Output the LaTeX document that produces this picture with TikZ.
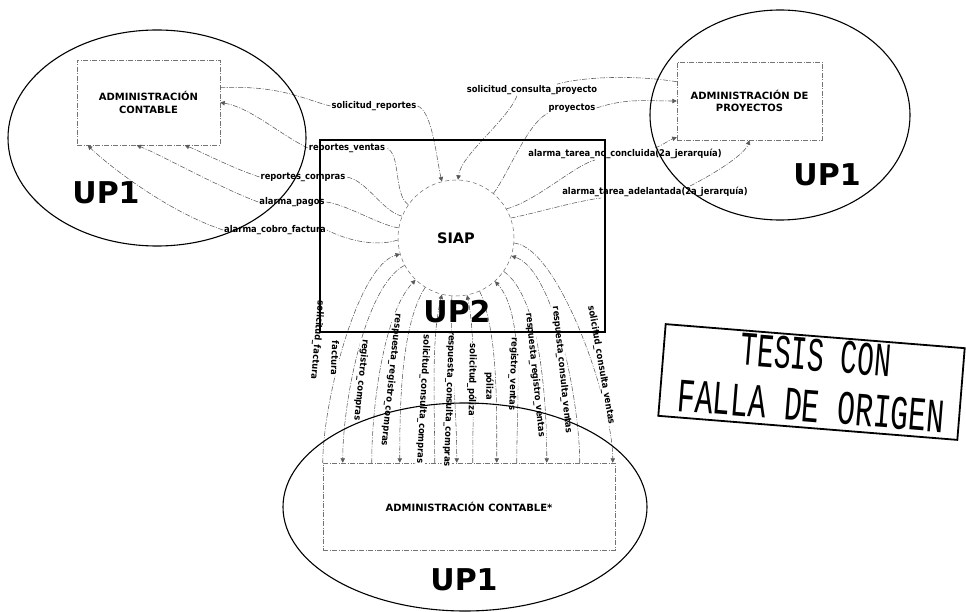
\documentclass[tikz,border=0pt]{standalone}
\usepackage{fontspec}
\setmainfont{DejaVu Sans}
\newfontfamily\lblfont{DejaVu Sans Condensed}
\newfontfamily\stampfont{Liberation Mono}
\usetikzlibrary{arrows.meta,calc,shapes.geometric}
\begin{document}
\begin{tikzpicture}[x=1pt,y=-1pt,
  flow/.style={draw=black!65, line width=0.55pt, dash pattern=on 5pt off 1.5pt on 1pt off 1.5pt},
  arr/.style={-{Triangle[length=4.5pt,width=4.5pt]}},
  lbl/.style={font=\lblfont\bfseries\fontsize{9.3}{10}\selectfont, inner sep=1pt},
  vlbl/.style={lbl, fill=white, inner sep=0.6pt},
  ebox/.style={draw=black!55, line width=0.5pt, dash pattern=on 5pt off 1.5pt on 1pt off 1.5pt,
    align=center, inner sep=0pt, font=\bfseries\fontsize{10}{12.5}\selectfont},
  group/.style={ellipse, draw=black, line width=1.1pt, inner sep=0pt},
  big/.style={font=\bfseries\fontsize{30}{32}\selectfont, inner sep=0pt},
  stamptext/.style={font=\stampfont\fontsize{48}{48}\selectfont, rotate=-4.6, inner sep=0pt},
]
\useasboundingbox (0,0) rectangle (966,612);

% entities
\node[ebox, minimum width=143pt, minimum height=85pt] (lbox) at (148.5,102.5) {ADMINISTRACIÓN\\CONTABLE};
\node[ebox, minimum width=145pt, minimum height=78pt] (rbox) at (749.5,101) {ADMINISTRACIÓN DE\\PROYECTOS};
\node[ebox, minimum width=292pt, minimum height=87pt] (bbox) at (469,506.5) {ADMINISTRACIÓN CONTABLE*};
\node[circle, draw=black!60, line width=0.5pt, dash pattern=on 4pt off 3pt, minimum size=116pt,
  font=\bfseries\fontsize{14.5}{16}\selectfont] (siap) at (456,238) {SIAP};

% left flows
\node[lbl] (L1) at (374,106) {solicitud\_reportes};
\node[lbl] (L2) at (347,148) {reportes\_ventas};
\node[lbl] (L3) at (303,177) {reportes\_compras};
\node[lbl] (L4) at (292,202) {alarma\_pagos};
\node[lbl] (L5) at (275,230) {alarma\_cobro\_factura};
\draw[flow] ($(lbox.north east)+(0,28)$) .. controls +(60,-3) and +(-25,-6) .. (L1.west);
\draw[flow,arr] (L1.east) .. controls +(15,5) and +(-5,-20) .. (siap.104);
\draw[flow] (siap.145) .. controls +(-15,-10) and +(15,5) .. (L2.east);
\draw[flow,arr] (L2.west) .. controls +(-30,-15) and +(30,5) .. (lbox.east);
\draw[flow] (siap.158) .. controls +(-20,-5) and +(20,3) .. (L3.east);
\draw[flow,arr] (L3.west) .. controls +(-30,-10) and +(20,8) .. ($(lbox.south west)+(108,0)$);
\draw[flow] (siap.170) .. controls +(-20,-3) and +(20,2) .. (L4.east);
\draw[flow,arr] (L4.west) .. controls +(-40,-15) and +(25,10) .. ($(lbox.south west)+(60,0)$);
\draw[flow] (siap.182) .. controls +(-25,8) and +(15,8) .. (L5.east);
\draw[flow,arr] (L5.west) .. controls +(-60,-20) and +(15,15) .. ($(lbox.south west)+(11,0)$);

% right flows
\node[lbl] (R1) at (532,90) {solicitud\_consulta\_proyecto};
\node[lbl] (R2) at (572,108) {proyectos};
\node[lbl] (R3) at (625,154) {alarma\_tarea\_no\_concluida(2a\_jerarquía)};
\node[lbl] (R4) at (655,192) {alarma\_tarea\_adelantada(2a\_jerarquía)};
\draw[flow] ($(rbox.north west)+(0,20)$) .. controls +(-50,-8) and +(20,-6) .. ($(R1.north)+(25,0)$);
\draw[flow,arr] ($(R1.south)+(-15,0)$) .. controls +(-10,25) and +(3,-25) .. (siap.88);
\draw[flow] (siap.50) .. controls +(15,-20) and +(-20,10) .. (R2.south west);
\draw[flow,arr] (R2.east) .. controls +(30,-10) and +(-30,0) .. (rbox.west);
\draw[flow] (siap.30) .. controls +(30,-8) and +(-20,5) .. ($(R3.south)+(-30,0)$);
\draw[flow,arr] ($(R3.north)+(30,0)$) .. controls +(8,-3) and +(-8,3) .. ($(rbox.south west)+(0,-3)$);
\draw[flow] (siap.20) .. controls +(25,-5) and +(-25,3) .. ($(R4.south west)+(40,0)$);
\draw[flow,arr] ($(R4.north)+(35,0)$) .. controls +(20,-10) and +(-5,15) .. (rbox.south);

% bottom flows: box -> SIAP
\draw[flow,arr] (bbox.north west) .. controls +(0,-60) and +(-43,12) .. (siap.196);
\draw[flow,arr] ($(bbox.north west)+(49,0)$) .. controls +(0,-60) and +(-31,32) .. (siap.226);
\draw[flow,arr] ($(bbox.north west)+(112,0)$) .. controls +(0,-60) and +(-11,44) .. (siap.256);
\draw[flow,arr] ($(bbox.north west)+(150,0)$) .. controls +(0,-60) and +(9,44) .. (siap.281);
\draw[flow,arr] ($(bbox.north west)+(194,0)$) .. controls +(0,-60) and +(30,33) .. (siap.312);
\draw[flow,arr] ($(bbox.north west)+(257,0)$) .. controls +(0,-60) and +(43,14) .. (siap.342);
% bottom flows: SIAP -> box
\draw[flow,arr] (siap.208) .. controls +(-40,21) and +(0,-60) .. ($(bbox.north west)+(20,0)$);
\draw[flow,arr] (siap.238) .. controls +(-24,38) and +(0,-60) .. ($(bbox.north west)+(77,0)$);
\draw[flow,arr] (siap.266) .. controls +(-3,45) and +(0,-60) .. ($(bbox.north west)+(134,0)$);
\draw[flow,arr] (siap.294) .. controls +(18,41) and +(0,-60) .. ($(bbox.north west)+(174,0)$);
\draw[flow,arr] (siap.325) .. controls +(37,26) and +(0,-60) .. ($(bbox.north west)+(224,0)$);
\draw[flow,arr] (siap.355) .. controls +(45,4) and +(0,-60) .. ($(bbox.north west)+(290,0)$);

% bottom labels
\node[vlbl, rotate=-95] (B1) at (317,340) {solicitud\_factura};
\node[vlbl, rotate=-92] (B2) at (335,358) {factura};
\node[vlbl, rotate=-96] (B3) at (361,380) {registro\_compras};
\node[vlbl, rotate=-96] (B4) at (391,380) {respuesta\_registro\_compras};
\node[vlbl, rotate=-93] (B5) at (423,399) {solicitud\_consulta\_compras};
\node[vlbl, rotate=-92] (B6) at (449,399) {respuesta\_consulta\_compras};
\node[vlbl, rotate=-91] (B7) at (472,380) {solicitud\_póliza};
\node[vlbl, rotate=-90] (B8) at (489,386) {póliza};
\node[vlbl, rotate=-92] (B9) at (513,374) {registro\_ventas};
\node[vlbl, rotate=-84] (B10) at (535,375) {respuesta\_registro\_ventas};
\node[vlbl, rotate=-84] (B11) at (562,370) {respuesta\_consulta\_ventas};
\node[vlbl, rotate=-80] (B12) at (601,365) {solicitud\_consulta\_ventas};

% groups
\node[draw=black, line width=1.2pt, minimum width=285pt, minimum height=192pt, inner sep=0pt] (up2box) at (462.5,236) {};
\node[group, minimum width=298pt, minimum height=216pt] (g1) at (157,138) {};
\node[group, minimum width=260pt, minimum height=210pt] (g2) at (780,115) {};
\node[group, minimum width=364pt, minimum height=208pt] (g3) at (465,507) {};
\node[big] (up1a) at (106,193) {UP1};
\node[big] (up1b) at (827,175) {UP1};
\node[big] (up1c) at (464,580) {UP1};
\node[big] (up2) at (457,312) {UP2};

% stamp
\node[draw=black, line width=1.8pt, rotate=-4.6, minimum width=300pt, minimum height=92pt] (stamp) at (811.5,382) {};
\node[stamptext, xscale=0.58] (t1) at (816,355) {TESIS CON};
\node[stamptext, xscale=0.62] (t2) at (811,406) {FALLA DE ORIGEN};
\end{tikzpicture}
\end{document}
